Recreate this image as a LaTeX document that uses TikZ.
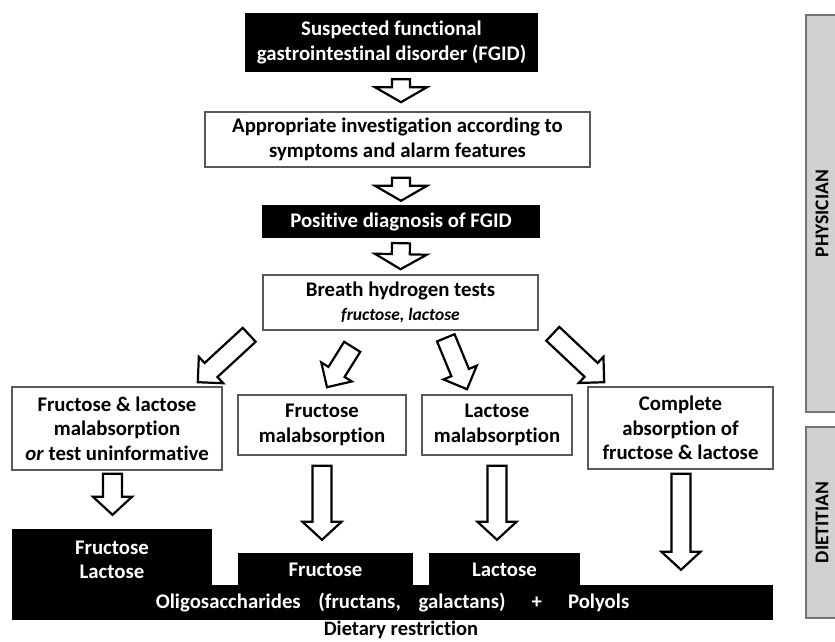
\documentclass[tikz,border=0pt]{standalone}
\usepackage{fontspec}
\setmainfont{Carlito}[Ligatures=NoCommon]
\usetikzlibrary{calc}
\tikzset{
  boxfont/.style={font=\bfseries\fontsize{20.8}{24.5}\selectfont},
  whitebox/.style={boxfont, draw=black!65, line width=1.6pt, fill=white, align=center, inner sep=0pt},
  blackbox/.style={boxfont, fill=black, text=white, align=center, inner sep=0pt},
  barr/.style={draw=black, line width=2.2pt, fill=white, line join=miter},
  sidebar/.style={fill=black!18, draw=black!55, line width=1.5pt, rotate=90, inner sep=0pt,
    font=\bfseries\fontsize{19.5}{22}\selectfont},
}
% block arrow: start, end, shaft half width, head half width, head length
\newcommand\blockarr[5]{%
  \coordinate (bah) at ($(#2)!#5!(#1)$);
  \draw[barr] ($(#1)!#3!90:(#2)$) -- ($(bah)!#3!-90:(#1)$) -- ($(bah)!#4!-90:(#1)$)
    -- (#2) -- ($(bah)!#4!90:(#1)$) -- ($(bah)!#3!90:(#1)$) -- ($(#1)!#3!-90:(#2)$) -- cycle;}
\begin{document}
\begin{tikzpicture}[x=1pt,y=-1pt]
\useasboundingbox (0,0) rectangle (835,641);
\fill[white] (0,0) rectangle (835,641);

% side bars
\node[sidebar, minimum width=397pt, minimum height=32pt] (phys) at (822,213.5) {PHYSICIAN};
\node[sidebar, minimum width=191pt, minimum height=32pt] (diet) at (822,522.5) {DIETITIAN};

% main boxes
\node[blackbox, minimum width=293pt, minimum height=59pt] (b1) at (391.5,42.5)
  {Suspected functional\\gastrointestinal disorder (FGID)};
\node[whitebox, minimum width=385pt, minimum height=55pt] (b2) at (397.5,139.5)
  {Appropriate investigation according to\\symptoms and alarm features};
\node[blackbox, minimum width=278pt, minimum height=33pt] (b3) at (401,221.5)
  {Positive diagnosis of FGID};
\node[whitebox, minimum width=275pt, minimum height=55pt] (b4) at (400.5,302.5)
  {Breath hydrogen tests\\{\itshape\fontsize{17.5}{20}\selectfont fructose, lactose}};
\node[whitebox, minimum width=210pt, minimum height=83pt] (b5) at (117,428.5)
  {Fructose \& lactose\\malabsorption\\\textit{or} test uninformative};
\node[whitebox, minimum width=168pt, minimum height=60pt] (b6) at (322,425)
  {Fructose\\malabsorption};
\node[whitebox, minimum width=150pt, minimum height=60pt] (b7) at (497,425)
  {Lactose\\malabsorption};
\node[whitebox, minimum width=185pt, minimum height=82pt] (b8) at (680.5,428)
  {Complete\\absorption of\\fructose \& lactose};

% dietary restriction blocks
\node[blackbox, minimum width=761pt, minimum height=35pt] (base) at (392.5,602.5)
  {Oligosaccharides\hspace{0.85em}(fructans,\hspace{0.85em}galactans)\hspace{1.25em}+\hspace{1.25em}Polyols};
\node[blackbox, minimum width=200pt, minimum height=62pt] (lb) at (112,560)
  {Fructose\\Lactose};
\node[blackbox, minimum width=175pt, minimum height=34pt] (fb) at (325.5,570) {Fructose};
\node[blackbox, minimum width=151pt, minimum height=34pt] (lab) at (504.5,570) {Lactose};
\node[font=\bfseries\fontsize{20.5}{24}\selectfont, inner sep=0pt] (dr) at (401,629.5) {Dietary restriction};

% top arrows
\coordinate (a1s) at ($(b1.south)+(9.5,7)$);  \coordinate (a1e) at ($(b2.north)+(3.5,-9)$);
\coordinate (a2s) at ($(b2.south)+(3.5,10)$); \coordinate (a2e) at ($(b3.north)+(0,-4)$);
\coordinate (a3s) at ($(b3.south)+(0,5)$);    \coordinate (a3e) at ($(b4.north)+(0,-5)$);
\blockarr{a1s}{a1e}{9pt}{26pt}{15pt}
\blockarr{a2s}{a2e}{9pt}{26pt}{15pt}
\blockarr{a3s}{a3e}{9pt}{26pt}{15pt}

% diagonal arrows
\coordinate (d1s) at ($(b4.south west)+(-13,4)$); \coordinate (d1e) at ($(b5.north east)+(-25,-4)$);
\coordinate (d2s) at ($(b4.south west)+(90,16)$); \coordinate (d2e) at ($(b6.north)+(5,-7)$);
\coordinate (d3s) at ($(b4.south east)+(-93,7)$); \coordinate (d3e) at ($(b7.north)+(-30,-5)$);
\coordinate (d4s) at ($(b4.south east)+(14,3)$);  \coordinate (d4e) at ($(b8.north west)+(17,-4)$);
\blockarr{d1s}{d1e}{9.5pt}{18pt}{18pt}
\blockarr{d2s}{d2e}{9.5pt}{18pt}{18pt}
\blockarr{d3s}{d3e}{9.5pt}{18pt}{18pt}
\blockarr{d4s}{d4e}{9.5pt}{18pt}{18pt}

% down arrows
\coordinate (v1s) at ($(b5.south)+(-4.5,3)$); \coordinate (v1e) at ($(lb.north)+(0.5,-14)$);
\coordinate (v2s) at ($(b6.south)+(0,10)$);   \coordinate (v2e) at ($(fb.north)+(-3.5,-13)$);
\coordinate (v3s) at ($(b7.south)+(0,10)$);   \coordinate (v3e) at ($(lab.north)+(-7.5,-13)$);
\coordinate (v4s) at ($(b8.south)+(0.5,4)$);  \coordinate (v4e) at ($(base.north -| b8.south)+(0.5,-15)$);
\blockarr{v1s}{v1e}{9.5pt}{19.5pt}{18pt}
\blockarr{v2s}{v2e}{9.5pt}{19.5pt}{18pt}
\blockarr{v3s}{v3e}{9.5pt}{19.5pt}{18pt}
\blockarr{v4s}{v4e}{9.5pt}{19.5pt}{18pt}
\end{tikzpicture}
\end{document}
